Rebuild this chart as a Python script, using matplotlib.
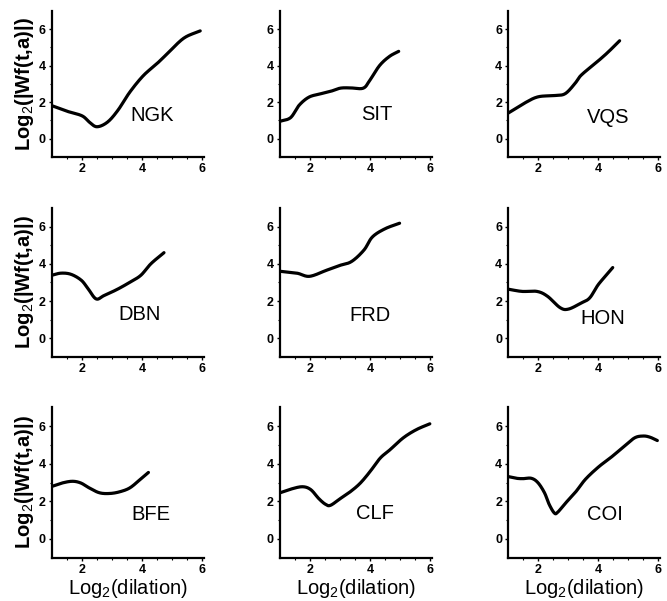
import numpy as np
import matplotlib
matplotlib.use("Agg")
import matplotlib.pyplot as plt

plt.rcParams["font.family"] = ["Liberation Sans", "DejaVu Sans"]
plt.rcParams["mathtext.fontset"] = "custom"
plt.rcParams["mathtext.rm"] = "Liberation Sans"
plt.rcParams["mathtext.bf"] = "Liberation Sans:bold"

# curves, x = log2(dilation), y = log2(|Wf(t,a)|)
ngk_x = [1.0, 1.5, 2.0, 2.25, 2.5, 2.85, 3.2, 3.6, 4.05, 4.5, 4.85, 5.4, 5.95]
ngk_y = [1.8, 1.5, 1.25, 0.9, 0.65, 0.9, 1.55, 2.55, 3.45, 4.1, 4.65, 5.5, 5.9]

sit_x = [1.0, 1.35, 1.63, 1.96, 2.34, 2.67, 3.0, 3.33, 3.77, 3.99, 4.32, 4.65, 4.96]
sit_y = [0.95, 1.15, 1.82, 2.27, 2.45, 2.58, 2.76, 2.78, 2.76, 3.18, 4.0, 4.5, 4.78]

vqs_x = [1.0, 1.56, 2.0, 2.56, 2.9, 3.22, 3.44, 4.0, 4.33, 4.72]
vqs_y = [1.4, 1.96, 2.29, 2.36, 2.46, 3.0, 3.48, 4.25, 4.73, 5.36]

dbn_x = [1.0, 1.3, 1.63, 1.97, 2.19, 2.47, 2.74, 3.19, 3.63, 3.97, 4.3, 4.74]
dbn_y = [3.39, 3.5, 3.44, 3.13, 2.7, 2.12, 2.3, 2.64, 3.04, 3.39, 4.0, 4.6]

frd_x = [1.0, 1.56, 1.98, 2.54, 2.96, 3.38, 3.8, 4.08, 4.5, 4.99]
frd_y = [3.6, 3.5, 3.33, 3.65, 3.9, 4.12, 4.74, 5.44, 5.88, 6.18]

hon_x = [1.0, 1.46, 1.96, 2.31, 2.73, 3.01, 3.44, 3.72, 4.0, 4.28, 4.49]
hon_y = [2.64, 2.52, 2.52, 2.26, 1.65, 1.57, 1.9, 2.17, 2.87, 3.4, 3.8]

bfe_x = [1.0, 1.34, 1.68, 1.96, 2.24, 2.58, 2.92, 3.26, 3.6, 3.94, 4.22]
bfe_y = [2.8, 2.98, 3.07, 2.98, 2.72, 2.46, 2.42, 2.51, 2.72, 3.16, 3.54]

clf_x = [1.0, 1.35, 1.74, 2.02, 2.29, 2.51, 2.68, 3.01, 3.34, 3.67, 4.0, 4.34,
         4.67, 5.11, 5.55, 6.0]
clf_y = [2.46, 2.65, 2.78, 2.63, 2.15, 1.85, 1.79, 2.15, 2.51, 2.96, 3.58, 4.3,
         4.75, 5.38, 5.82, 6.13]

coi_x = [1.0, 1.27, 1.49, 1.77, 1.99, 2.21, 2.37, 2.54, 2.65, 2.92, 3.25, 3.58,
         4.02, 4.46, 4.9, 5.23, 5.51, 5.73, 5.98]
coi_y = [3.32, 3.23, 3.21, 3.23, 3.0, 2.46, 1.83, 1.38, 1.42, 1.92, 2.5, 3.18,
         3.84, 4.38, 4.97, 5.39, 5.48, 5.42, 5.24]

names = ["NGK", "SIT", "VQS", "DBN", "FRD", "HON", "BFE", "CLF", "COI"]
xs = [ngk_x, sit_x, vqs_x, dbn_x, frd_x, hon_x, bfe_x, clf_x, coi_x]
ys = [ngk_y, sit_y, vqs_y, dbn_y, frd_y, hon_y, bfe_y, clf_y, coi_y]
# where the station code sits inside each panel (data coords)
label_x = [4.35, 4.24, 4.33, 3.91, 4.0, 4.14, 4.3, 4.17, 4.24]
label_y = [1.26, 1.3, 1.16, 1.3, 1.23, 1.04, 1.3, 1.34, 1.29]

x_ticks = [2, 4, 6]
y_ticks = [0, 2, 4, 6]


def smooth(x, y):
    # catmull-rom through the read points, just to round the corners
    x = np.asarray(x, float)
    y = np.asarray(y, float)
    px = np.concatenate([[2 * x[0] - x[1]], x, [2 * x[-1] - x[-2]]])
    py = np.concatenate([[2 * y[0] - y[1]], y, [2 * y[-1] - y[-2]]])
    out_x, out_y = [], []
    for i in range(1, len(px) - 2):
        t = np.linspace(0, 1, 20, endpoint=False)
        for arr, out in ((px, out_x), (py, out_y)):
            p0, p1, p2, p3 = arr[i - 1], arr[i], arr[i + 1], arr[i + 2]
            out.extend(0.5 * (2 * p1 + (-p0 + p2) * t
                              + (2 * p0 - 5 * p1 + 4 * p2 - p3) * t ** 2
                              + (-p0 + 3 * p1 - 3 * p2 + p3) * t ** 3))
    out_x.append(x[-1])
    out_y.append(y[-1])
    return np.array(out_x), np.array(out_y)


fig = plt.figure(figsize=(6.67, 6.01), dpi=100)

col_left = [0.078, 0.420, 0.762]
row_bottom = [0.739, 0.406, 0.072]
row_height = [0.243, 0.248, 0.250]
width = 0.228

for i, name in enumerate(names):
    r, c = divmod(i, 3)
    ax = fig.add_axes([col_left[c], row_bottom[r], width, row_height[r]])
    sx, sy = smooth(xs[i], ys[i])
    ax.plot(sx, sy, color="black", lw=2.3, solid_capstyle="round")
    ax.set_xlim(1, 6.08)
    ax.set_ylim(-1, 7)
    ax.spines["top"].set_visible(False)
    ax.spines["right"].set_visible(False)
    for s in ("left", "bottom"):
        ax.spines[s].set_linewidth(1.6)
    ax.set_xticks(x_ticks)
    ax.set_yticks(y_ticks)
    ax.set_xticks(np.arange(1.5, 6, 0.5), minor=True)
    ax.set_yticks([1, 3, 5], minor=True)
    ax.tick_params(which="major", length=2.5, width=1, labelsize=9, pad=2)
    ax.tick_params(which="minor", length=1.5, width=0.8)
    for lab in ax.get_xticklabels() + ax.get_yticklabels():
        lab.set_fontweight("bold")
    ax.text(label_x[i], label_y[i], name, fontsize=14.5, ha="center", va="center")
    if c == 0:
        ax.set_ylabel(r"Log$_2$(|Wf(t,a)|)", fontsize=14.5, fontweight="bold",
                      labelpad=2)
    if r == 2:
        ax.set_xlabel(r"Log$_2$(dilation)", fontsize=14.5, labelpad=1)

fig.savefig("out.png", dpi=100)
